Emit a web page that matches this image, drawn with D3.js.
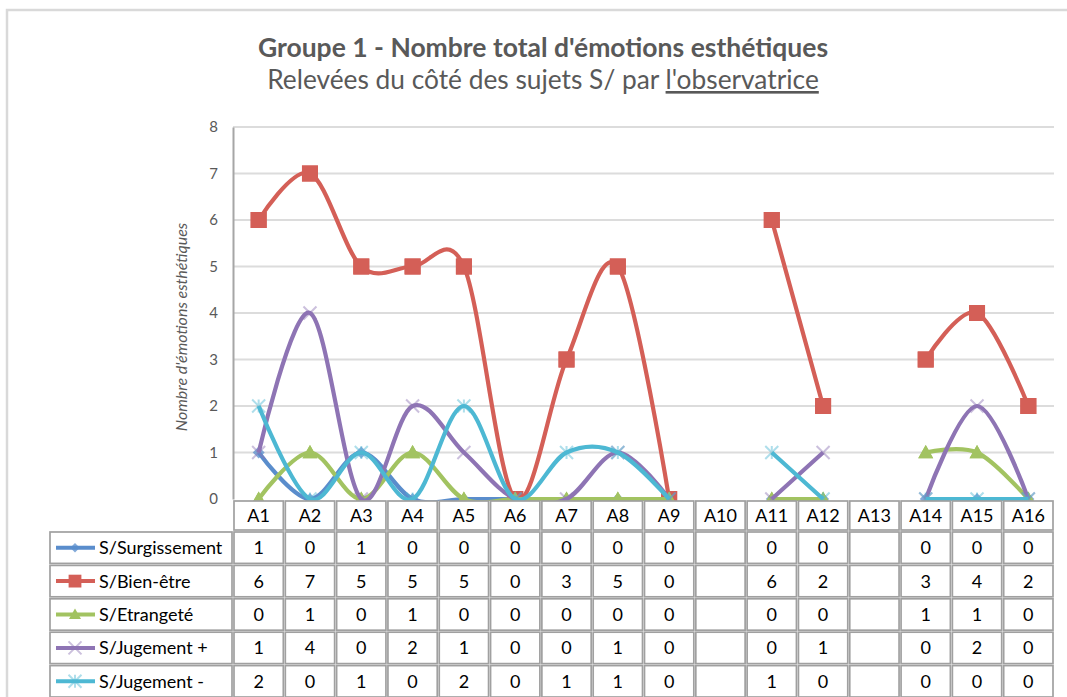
<!DOCTYPE html>
<html>
<head>
<meta charset="utf-8">
<script src="https://cdn.jsdelivr.net/npm/d3@7/dist/d3.min.js"></script>
<style>
  html, body { margin: 0; padding: 0; background: #fff; }
  svg { display: block; font-family: Lato, "Open Sans", sans-serif; }
</style>
</head>
<body>
<svg id="chart" width="1067" height="697"></svg>
<script>
// Categories (sessions) and the counts per series; null = no observation
const categories = ["A1","A2","A3","A4","A5","A6","A7","A8","A9","A10","A11","A12","A13","A14","A15","A16"];
const surgissement = [1,0,1,0,0,0,0,0,0,null,0,0,null,0,0,0];
const bienEtre     = [6,7,5,5,5,0,3,5,0,null,6,2,null,3,4,2];
const etrangete    = [0,1,0,1,0,0,0,0,0,null,0,0,null,1,1,0];
const jugementPlus = [1,4,0,2,1,0,0,1,0,null,0,1,null,0,2,0];
const jugementMoins= [2,0,1,0,2,0,1,1,0,null,1,0,null,0,0,0];
const yTicks = [0,1,2,3,4,5,6,7,8];

const seriesNames = ["S/Surgissement","S/Bien-être","S/Etrangeté","S/Jugement +","S/Jugement -"];
const seriesValues = [surgissement, bienEtre, etrangete, jugementPlus, jugementMoins];
const seriesColors = ["#5a8dcc","#d45f57","#a2c361","#8e74b4","#4db8d3"];
const seriesMarkers = ["diamond","square","triangle","cross","star"];

const series = seriesNames.map((name, i) => ({
  name, values: seriesValues[i], color: seriesColors[i], marker: seriesMarkers[i]
}));

const svg = d3.select("#chart");

// Outer chart frame
svg.append("rect")
  .attr("x", 7).attr("y", 10).attr("width", 1100).attr("height", 800)
  .attr("fill", "none").attr("stroke", "#d9d9d9").attr("stroke-width", 2.5);

// Titles
svg.append("text")
  .attr("x", 543).attr("y", 57).attr("text-anchor", "middle")
  .attr("font-size", 26.5).attr("font-weight", "bold").attr("fill", "#595959")
  .text("Groupe 1 - Nombre total d'émotions esthétiques");
const sub = svg.append("text")
  .attr("x", 543).attr("y", 89).attr("text-anchor", "middle")
  .attr("font-size", 26.3).attr("fill", "#595959");
sub.append("tspan").text("Relevées du côté des sujets S/ par ");
sub.append("tspan").attr("text-decoration", "underline").text("l'observatrice");

// Scales
const plotLeft = 233, plotRight = 1054, plotTop = 127, plotBottom = 499;
const x = d3.scaleBand().domain(categories).range([plotLeft, plotRight]);
const cx = c => x(c) + x.bandwidth() / 2;
const y = d3.scaleLinear().domain([0, 8]).range([plotBottom, plotTop]);

// Clip series to the plot area (just past the zero line)
svg.append("defs").append("clipPath").attr("id", "plot-clip")
  .append("rect")
  .attr("x", plotLeft).attr("y", 0)
  .attr("width", plotRight - plotLeft).attr("height", plotBottom + 2);

// Horizontal gridlines
svg.append("g")
  .selectAll("line").data(yTicks.filter(t => t > 0)).join("line")
  .attr("x1", plotLeft).attr("x2", plotRight)
  .attr("y1", d => y(d)).attr("y2", d => y(d))
  .attr("stroke", "#dcdcdc").attr("stroke-width", 2);

// Y axis
const yAxis = svg.append("g")
  .attr("transform", `translate(${plotLeft},0)`)
  .call(d3.axisLeft(y).tickValues(yTicks).tickSize(0).tickPadding(15).tickFormat(d3.format("d")));
yAxis.select(".domain").attr("stroke", "#a6a6a6").attr("stroke-width", 2);
yAxis.selectAll("text").attr("font-size", 15).attr("fill", "#595959")
  .attr("font-family", "Lato, 'Open Sans', sans-serif");

// Y axis title
svg.append("text")
  .attr("transform", `translate(187,327) rotate(-90)`)
  .attr("text-anchor", "middle").attr("font-size", 16)
  .attr("font-style", "italic").attr("fill", "#595959")
  .text("Nombre d'émotions esthétiques");

// Markers
function drawMarker(g, s, px, py, k) {
  k = k || 1;
  if (s.marker === "diamond") {
    const r = 6 * k;
    g.append("path")
      .attr("d", `M${px},${py - r}L${px + r},${py}L${px},${py + r}L${px - r},${py}Z`)
      .attr("fill", s.color).attr("opacity", 0.75);
  } else if (s.marker === "square") {
    const r = 8 * k;
    g.append("rect")
      .attr("x", px - r).attr("y", py - r).attr("width", 2 * r).attr("height", 2 * r)
      .attr("fill", s.color);
  } else if (s.marker === "triangle") {
    const r = 7.5 * k;
    g.append("path")
      .attr("d", `M${px},${py - r}L${px + r},${py + r * 0.75}L${px - r},${py + r * 0.75}Z`)
      .attr("fill", s.color);
  } else if (s.marker === "cross") {
    const r = 6.5 * k;
    g.append("path")
      .attr("d", `M${px - r},${py - r}L${px + r},${py + r}M${px + r},${py - r}L${px - r},${py + r}`)
      .attr("stroke", s.color).attr("stroke-width", 2).attr("opacity", 0.45);
  } else if (s.marker === "star") {
    const r = 6.5 * k;
    g.append("path")
      .attr("d", `M${px - r},${py - r}L${px + r},${py + r}M${px + r},${py - r}L${px - r},${py + r}M${px},${py - r}L${px},${py + r}`)
      .attr("stroke", s.color).attr("stroke-width", 2).attr("opacity", 0.45);
  }
}

// Smoothed series lines (uniform Catmull-Rom / cardinal with zero tension)
const line = d3.line()
  .defined(d => d.v !== null)
  .x(d => cx(d.c))
  .y(d => y(d.v))
  .curve(d3.curveCardinal.tension(0));

const plot = svg.append("g").attr("clip-path", "url(#plot-clip)");
series.forEach(s => {
  const pts = categories.map((c, j) => ({ c, v: s.values[j] }));
  const g = plot.append("g");
  pts.filter(p => p.v !== null).forEach(p => drawMarker(g, s, cx(p.c), y(p.v), 1));
  g.append("path")
    .datum(pts)
    .attr("d", line)
    .attr("fill", "none")
    .attr("stroke", s.color)
    .attr("stroke-width", 4.2)
    .attr("stroke-linejoin", "round");
  if (s.marker === "square" || s.marker === "triangle") {
    pts.filter(p => p.v !== null).forEach(p => drawMarker(g, s, cx(p.c), y(p.v), 1));
  }
});

// Data table
const rowH = 33.4;
const headerTop = plotBottom + 1, headerH = 31;
const tableTop = headerTop + headerH;
const legendLeft = 49;
const border = "#a0a0a0";
const tableFont = 18;

function cell(g, x0, y0, w, h) {
  g.append("rect")
    .attr("x", x0 + 1).attr("y", y0 + 1)
    .attr("width", w - 2).attr("height", h - 2)
    .attr("fill", "#fff").attr("stroke", border).attr("stroke-width", 1.7);
}

const table = svg.append("g");
// header row with category names
categories.forEach(c => {
  cell(table, x(c), headerTop, x.bandwidth(), headerH);
  table.append("text")
    .attr("x", cx(c)).attr("y", headerTop + headerH / 2 + 6.5)
    .attr("text-anchor", "middle").attr("font-size", tableFont).attr("fill", "#000")
    .text(c);
});

// series rows with legend keys
series.forEach((s, i) => {
  const ry = tableTop + i * rowH;
  cell(table, legendLeft, ry, plotLeft - legendLeft, rowH);
  const ky = ry + rowH / 2;
  table.append("line")
    .attr("x1", 56).attr("x2", 95).attr("y1", ky).attr("y2", ky)
    .attr("stroke", s.color).attr("stroke-width", 4);
  drawMarker(table, s, 75, ky, s.marker === "cross" || s.marker === "star" ? 1 : 0.8);
  table.append("text")
    .attr("x", 99).attr("y", ky + 6.5)
    .attr("font-size", tableFont).attr("fill", "#000")
    .text(s.name);
  categories.forEach((c, j) => {
    cell(table, x(c), ry, x.bandwidth(), rowH);
    const v = s.values[j];
    if (v !== null) {
      table.append("text")
        .attr("x", cx(c)).attr("y", ky + 6.5)
        .attr("text-anchor", "middle").attr("font-size", tableFont).attr("fill", "#000")
        .text(v);
    }
  });
});
</script>
</body>
</html>
